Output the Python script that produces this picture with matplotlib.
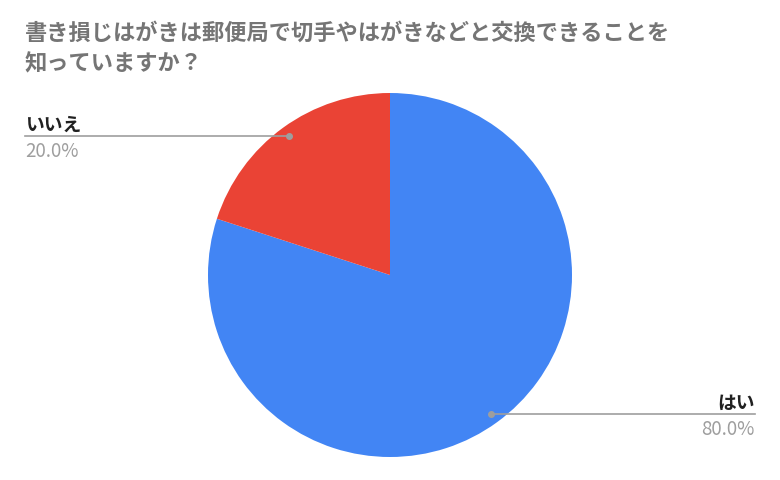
import numpy as np
import matplotlib
matplotlib.use("Agg")
import matplotlib.pyplot as plt

plt.rcParams['font.family'] = ['Noto Sans CJK JP', 'DejaVu Sans']

title = "書き損じはがきは郵便局で切手やはがきなどと交換できることを\n知っていますか？"
labels = ["はい", "いいえ"]
values = [80.0, 20.0]
colors = ["#4285f4", "#ea4335"]

W, H = 780, 481
fig = plt.figure(figsize=(W / 100, H / 100), dpi=100)
ax = fig.add_axes([0, 0, 1, 1])

cx, cy, R = 390, H - 276, 182
wedges, _ = ax.pie(values, colors=colors, startangle=90, counterclock=False,
                   center=(cx, cy), radius=R, frame=True,
                   wedgeprops=dict(linewidth=0))
ax.set_xlim(0, W)
ax.set_ylim(0, H)
ax.set_aspect('equal')
ax.axis('off')

fig.text(25 / W, 1 - 22 / H, title, ha='left', va='top', fontsize=16,
         fontweight='bold', color='#757575', linespacing=1.4)

# label lines: from the wedge mid-angle out to the side
for w, lab, v in zip(wedges, labels, values):
    mid = np.deg2rad((w.theta1 + w.theta2) / 2)
    px = cx + 0.945 * R * np.cos(mid)
    py = cy + 0.945 * R * np.sin(mid)
    if np.cos(mid) < 0:
        x_end, ha = 25, 'left'
    else:
        x_end, ha = 755, 'right'
    ax.plot([px, x_end], [py, py], color='#9e9e9e', lw=1.2, zorder=3)
    ax.plot(px, py, 'o', ms=4, color='#9e9e9e', zorder=4)
    ax.text(x_end, py + 2, lab, ha=ha, va='bottom', fontsize=13.5,
            fontweight='bold', color='#212121')
    ax.text(x_end, py - 4, f"{v:.1f}%", ha=ha, va='top', fontsize=13.5,
            color='#9e9e9e')

fig.savefig("out.png", dpi=100)
